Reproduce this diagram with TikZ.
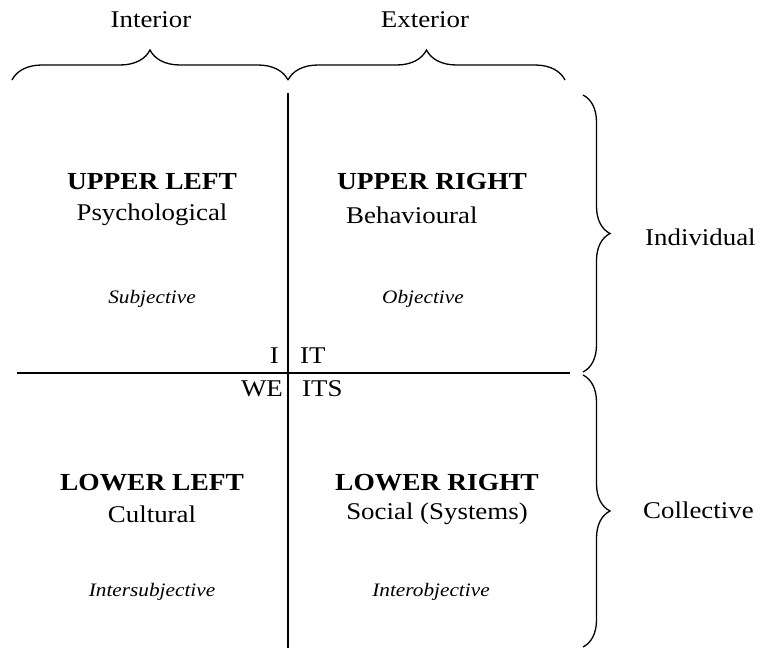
\documentclass[tikz,border=0pt]{standalone}
\usepackage{fontspec}
\setmainfont[FakeStretch=1.12]{Liberation Serif}
\usetikzlibrary{decorations.pathreplacing}
\begin{document}
\begin{tikzpicture}[x=1pt,y=-1pt,
  every node/.style={inner sep=0pt,font=\fontsize{24}{28}\selectfont},
  head/.style={font=\fontsize{24.5}{28}\selectfont\bfseries},
  note/.style={font=\fontsize{19}{22}\selectfont\itshape},
  axis/.style={line width=1.2pt},
  curly/.style={line width=1.3pt,decorate,decoration={brace,amplitude=#1}},
  curly/.default=30]
\useasboundingbox (0,0) rectangle (763,648);
% axes
\coordinate (vtop) at (288,93);
\coordinate (vbot) at (288,648);
\coordinate (hl) at (17,373);
\coordinate (hr) at (570,373);
\draw[axis] (vtop) -- (vbot);
\draw[axis] (hl) -- (hr);
% top braces
\coordinate (b1) at (12,80);
\coordinate (b2) at (288,80);
\coordinate (b3) at (565,80);
\draw[curly] (b1) -- (b2);
\draw[curly] (b2) -- (b3);
\node (interior) at (151,20) {Interior};
\node (exterior) at (425,20) {Exterior};
% side braces
\coordinate (r1) at (583,95);
\coordinate (r2) at (583,372);
\coordinate (r3) at (583,375);
\coordinate (r4) at (583,647);
\draw[curly=27] (r1) -- (r2);
\draw[curly=27] (r3) -- (r4);
\node[anchor=west] (individual) at (645,237) {Individual};
\node[anchor=west] (collective) at (643,510) {Collective};
% quadrant labels
\node[head] (ul) at (152,182) {UPPER LEFT};
\node (ulsub) at (152,215) {Psychological};
\node[note] (ulnote) at (152,299) {Subjective};
\node[head] (ur) at (432,182) {UPPER RIGHT};
\node[anchor=west] (ursub) at (346,215) {Behavioural};
\node[note] (urnote) at (423,299) {Objective};
\node[head] (ll) at (152,483) {LOWER LEFT};
\node (llsub) at (152,514) {Cultural};
\node[note] (llnote) at (152,592) {Intersubjective};
\node[head] (lr) at (437,483) {LOWER RIGHT};
\node (lrsub) at (437,514) {Social (Systems)};
\node[note] (lrnote) at (431,592) {Interobjective};
% centre labels
\node[anchor=east] (i) at (279,356) {I};
\node[anchor=west] (it) at (300,356) {IT};
\node[anchor=east] (we) at (283,389) {WE};
\node[anchor=west] (its) at (302,389) {ITS};
\end{tikzpicture}
\end{document}
